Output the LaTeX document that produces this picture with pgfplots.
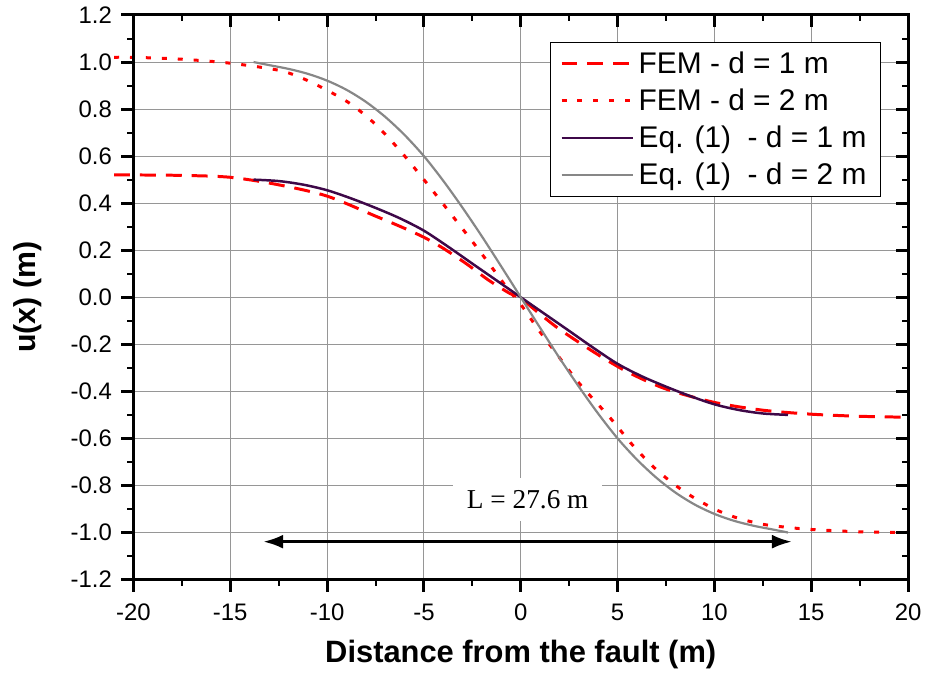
\documentclass[border=0pt]{standalone}
\usepackage{fontspec}
\setmainfont{Liberation Sans}
\newfontfamily\timesfont{Liberation Serif}
\usepackage{pgfplots}
\pgfplotsset{compat=1.18}
\usetikzlibrary{arrows.meta}

\definecolor{fem}{RGB}{255,0,0}
\definecolor{eqone}{RGB}{62,8,72}
\definecolor{eqtwo}{RGB}{135,135,135}
\definecolor{gridc}{RGB}{150,150,150}

\pgfplotstableread{
x y
-21 0.52
-20 0.52
-17.5 0.518
-15 0.51
-12.5 0.478
-10 0.43
-7.5 0.345
-6.25 0.302
-5 0.255
-4 0.208
-2.8 0.142
-1.7 0.075
-0.6 0.018
0 -0.005
0.9 -0.065
1.9 -0.13
3.1 -0.197
4.4 -0.265
5.67 -0.324
7.5 -0.39
10 -0.447
12.5 -0.48
15 -0.497
17.5 -0.506
20 -0.51
}\femone

\pgfplotstableread{
x y
-21 1.02
-20 1.02
-17.5 1.012
-15 0.995
-12.5 0.965
-11.25 0.93
-10 0.88
-8.75 0.82
-7.5 0.735
-6.25 0.625
-5 0.5
-3.85 0.38
-2.2 0.205
-0.67 0.036
0 -0.03
0.87 -0.133
1.9 -0.246
3.02 -0.366
4.63 -0.514
5.76 -0.627
6.9 -0.725
8 -0.8
9 -0.855
10.13 -0.905
11.25 -0.94
12.5 -0.965
13.75 -0.978
15 -0.987
17.5 -0.997
20 -1.0
}\femtwo

\pgfplotstableread{
x y
-13.8 0.5
-12.5 0.494
-11.25 0.479
-10 0.455
-8.75 0.42
-7.5 0.38
-6.25 0.336
-5 0.283
-3.75 0.215
-2.5 0.143
-1.25 0.0716
0 0
1.25 -0.0716
2.5 -0.143
3.75 -0.215
5 -0.283
6.25 -0.336
7.5 -0.38
8.75 -0.42
10 -0.455
11.25 -0.479
12.5 -0.494
13.8 -0.5
}\eqone

\pgfplotstableread{
x y
-13.8 1.0
-13 0.987
-12 0.971
-11 0.95
-10 0.921
-9 0.882
-8 0.831
-7 0.767
-6 0.69
-5 0.6
-4 0.495
-3 0.38
-2 0.258
-1 0.13
0 0
1 -0.13
2 -0.258
3 -0.38
4 -0.495
5 -0.6
6 -0.69
7 -0.767
8 -0.831
9 -0.882
10 -0.921
11 -0.95
12 -0.971
13 -0.987
13.8 -1.0
}\eqtwo

\begin{document}
\begin{tikzpicture}
\pgfplotsset{
 common/.style={
   scale only axis, width=389pt, height=283.5pt,
   xmin=-20, xmax=20, ymin=-1.2, ymax=1.2,
   xtick={-20,-15,-10,-5,0,5,10,15,20},
   ytick={-1.2,-1,-0.8,-0.6,-0.4,-0.2,0,0.2,0.4,0.6,0.8,1,1.2},
   minor x tick num=1, minor y tick num=1,
   axis line style={line width=1.5pt},
   major tick style={line width=1.5pt, black},
   minor tick style={line width=1pt, black},
   major tick length=6pt, minor tick length=3pt,
 }
}
\begin{axis}[common,
  tick pos=left, tick align=outside,
  grid=major, major grid style={gridc, line width=0.5pt},
  xticklabels={-20,-15,-10,-5,0,5,10,15,20},
  yticklabels={-1.2,-1.0,-0.8,-0.6,-0.4,-0.2,0.0,0.2,0.4,0.6,0.8,1.0,1.2},
  tick label style={font=\fontsize{12}{13}\selectfont},
  xticklabel style={yshift=-2.8pt},
  yticklabel style={xshift=-1.3pt},
  xlabel={Distance from the fault (m)},
  ylabel={u(x) (m)},
  xlabel style={at={(axis description cs:0.5,-0.1323)}, anchor=center,
    font=\fontsize{15.5}{16}\selectfont\bfseries},
  ylabel style={at={(axis description cs:-0.1362,0.5)}, anchor=center,
    font=\fontsize{15.2}{16}\selectfont\bfseries},
  legend style={at={(0.965,0.952)}, anchor=north east,
    font=\fontsize{15}{17}\selectfont, draw=black, line width=0.6pt,
    inner xsep=5pt, inner ysep=2.5pt, row sep=2.2pt},
  legend cell align=left,
  legend image code/.code={\draw[#1] (0pt,0pt) -- (36pt,0pt);},
  clip=false,
]
\addplot[fem, line width=1.5pt, dash pattern=on 8pt off 5pt, smooth] table {\femone};
\addlegendentry{FEM - d = 1 m}
\addplot[fem, line width=1.5pt, dash pattern=on 2.5pt off 5.5pt, smooth] table {\femtwo};
\addlegendentry{FEM - d = 2 m}
\addplot[eqone, line width=1.25pt, smooth] table {\eqone};
\addlegendentry{Eq. (1)\ \ - d = 1 m}
\addplot[eqtwo, line width=1.1pt, smooth] table {\eqtwo};
\addlegendentry{Eq. (1)\ \ - d = 2 m}

\draw[{Latex[length=10pt,width=7pt]}-{Latex[length=10pt,width=7pt]}, line width=1.5pt]
  (axis cs:-13.3,-1.039) -- (axis cs:14.0,-1.039);
\node[fill=white, inner xsep=7pt, inner ysep=6pt, font=\timesfont\fontsize{13.7}{15}\selectfont]
  at (axis cs:0.36,-0.859) {L = 27.6 m};
\end{axis}
\begin{axis}[common,
  tick pos=right, tick align=inside,
  xticklabels={}, yticklabels={},
]
\end{axis}
\path ([xshift=-67pt,yshift=-48pt]current axis.south west)
  rectangle ([xshift=8pt,yshift=7.5pt]current axis.north east);
\end{tikzpicture}
\end{document}
